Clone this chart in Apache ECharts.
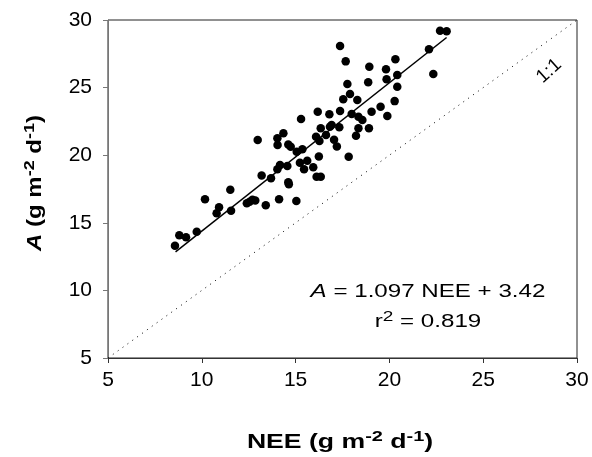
<!DOCTYPE html>
<html>
<head>
<meta charset="utf-8">
<script src="https://cdn.jsdelivr.net/npm/echarts@6/dist/echarts.min.js"></script>
<style>
  html, body { margin: 0; padding: 0; background: #fff; }
  #chart { width: 592px; height: 457px; }
</style>
</head>
<body>
<div id="chart"></div>
<script>
// Daily NEE vs assimilation A (g m-2 d-1)
const neeValues = [
  22.70, 23.05, 17.37, 17.67, 22.11, 18.93, 20.32, 19.82, 22.34, 20.42,
  17.76, 18.87, 19.85, 20.42, 17.90, 17.54, 18.29, 20.28, 17.37, 19.53,
  19.05, 17.99, 18.35, 18.56, 19.89, 16.92, 17.33, 18.35, 18.91, 18.22,
  17.05, 17.20, 17.83, 16.18, 16.80, 15.29, 16.34, 16.83, 16.62, 16.09,
  16.27, 14.35, 14.03, 14.04, 14.61, 14.74, 12.98, 15.06, 15.36, 16.24,
  15.23, 15.62, 15.45, 15.94, 16.12, 16.34, 14.17, 14.56, 14.03, 13.19,
  13.69, 14.61, 14.64, 11.52, 10.17, 10.92, 10.79, 11.56, 12.40, 12.55,
  12.70, 12.85, 13.41, 14.12, 15.04, 9.73, 8.80, 9.16, 8.57
];
const aValues = [
  29.21, 29.16, 28.08, 26.94, 27.83, 26.55, 27.09, 26.35, 26.00, 25.93,
  25.27, 25.39, 25.61, 25.07, 24.53, 24.13, 24.08, 24.00, 23.27, 23.59,
  23.22, 23.05, 22.85, 22.60, 22.90, 22.23, 22.06, 21.99, 21.99, 21.44,
  21.15, 20.65, 19.89, 23.22, 23.03, 22.68, 21.99, 22.11, 21.49, 21.37,
  21.05, 21.62, 21.25, 20.75, 20.80, 20.63, 21.12, 20.26, 20.44, 19.91,
  19.45, 19.59, 18.96, 19.10, 18.41, 18.41, 19.27, 19.20, 18.96, 18.49,
  18.29, 18.00, 17.85, 17.45, 16.74, 16.15, 15.70, 15.90, 16.45, 16.55,
  16.70, 16.65, 16.29, 16.74, 16.61, 14.34, 14.08, 13.93, 13.30
];

// Linear fit A = slope * NEE + intercept, drawn over the NEE range
const slope = 1.097;
const intercept = 3.42;
const r2 = 0.819;
const fitRange = [8.6, 23.05];
const oneToOne = [5, 30];
const axisTicks = [5, 10, 15, 20, 25, 30];

const points = neeValues.map((x, i) => [x, aValues[i]]);
const fitLine = fitRange.map(x => [x, slope * x + intercept]);
const identityLine = oneToOne.map(v => [v, v]);

const FONT = '"Liberation Sans", Arial, sans-serif';

const titleRich = {
  i: { fontSize: 20, fontWeight: 'bold', fontStyle: 'italic', fontFamily: FONT, fill: '#000' },
  b: { fontSize: 20, fontWeight: 'bold', fontFamily: FONT, fill: '#000' },
  sup: { fontSize: 15, fontWeight: 'bold', fontFamily: FONT, fill: '#000', padding: [0, 0, 10, 0] }
};

const chart = echarts.init(document.getElementById('chart'), null, { renderer: 'canvas' });

chart.setOption({
  animation: false,
  backgroundColor: '#fff',
  grid: {
    left: 108, right: 15, top: 20, bottom: 99,
    show: true, borderColor: '#222', borderWidth: 1
  },
  xAxis: {
    type: 'value',
    min: axisTicks[0], max: axisTicks[axisTicks.length - 1], interval: 5,
    axisLine: { show: true, lineStyle: { color: '#333', width: 1 } },
    axisTick: { show: true, inside: false, length: 5, lineStyle: { color: '#333' } },
    axisLabel: { fontSize: 21, fontFamily: FONT, color: '#000', margin: 12 },
    splitLine: { show: false }
  },
  yAxis: {
    type: 'value',
    min: axisTicks[0], max: axisTicks[axisTicks.length - 1], interval: 5,
    axisLine: { show: true, lineStyle: { color: '#777', width: 1 } },
    axisTick: { show: true, inside: false, length: 5, lineStyle: { color: '#777' } },
    axisLabel: { fontSize: 21, fontFamily: FONT, color: '#000', margin: 16 },
    splitLine: { show: false }
  },
  series: [
    {
      name: '1:1',
      type: 'line',
      data: identityLine,
      symbol: 'none',
      lineStyle: { color: '#000', width: 1, type: [1, 5] },
      z: 1
    },
    {
      name: 'fit',
      type: 'line',
      data: fitLine,
      symbol: 'none',
      lineStyle: { color: '#000', width: 1.5 },
      z: 2
    },
    {
      name: 'obs',
      type: 'scatter',
      data: points,
      symbol: 'circle',
      symbolSize: 8.5,
      itemStyle: { color: '#000', opacity: 1 },
      z: 3
    }
  ],
  graphic: [
    // axis titles
    {
      type: 'text',
      x: 340, y: 442,
      scaleX: 1.33,
      style: {
        text: '{b|NEE (g m}{sup|-2}{b| d}{sup|-1}{b|)}',
        align: 'center', verticalAlign: 'middle',
        rich: titleRich
      }
    },
    {
      type: 'text',
      x: 35, y: 183,
      rotation: Math.PI / 2,
      scaleX: 1.2,
      style: {
        text: '{i|A}{b| (g m}{sup|-2}{b| d}{sup|-1}{b|)}',
        align: 'center', verticalAlign: 'middle',
        rich: titleRich
      }
    },
    // identity line label
    {
      type: 'text',
      x: 549, y: 71,
      rotation: 42 * Math.PI / 180,
      style: {
        text: '1:1',
        font: '19px ' + FONT,
        fill: '#000',
        align: 'center',
        verticalAlign: 'middle'
      }
    },
    // regression equation
    {
      type: 'text',
      x: 428, y: 292,
      scaleX: 1.27,
      style: {
        text: '{i|A}{n| = ' + slope.toFixed(3) + ' NEE + ' + intercept.toFixed(2) + '}',
        align: 'center',
        verticalAlign: 'middle',
        rich: {
          i: { fontSize: 19, fontStyle: 'italic', fontFamily: FONT, fill: '#000' },
          n: { fontSize: 19, fontFamily: FONT, fill: '#000' }
        }
      }
    },
    {
      type: 'text',
      x: 428, y: 322,
      scaleX: 1.27,
      style: {
        text: '{n|r}{s|2}{n| = ' + r2.toFixed(3) + '}',
        align: 'center',
        verticalAlign: 'middle',
        rich: {
          n: { fontSize: 19, fontFamily: FONT, fill: '#000' },
          s: { fontSize: 15, fontFamily: FONT, fill: '#000', padding: [0, 0, 10, 0] }
        }
      }
    }
  ]
});
</script>
</body>
</html>
